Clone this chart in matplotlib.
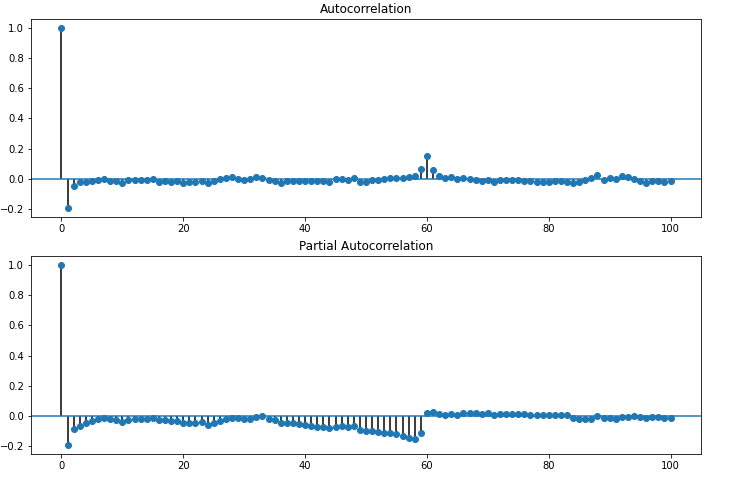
import numpy as np
import matplotlib
matplotlib.use("Agg")
import matplotlib.pyplot as plt

lags = list(range(0, 101))

acf_values = [
    1.0, -0.194, -0.046, -0.024, -0.02, -0.015, -0.01, 0.0, -0.017, -0.017,
    -0.029, -0.008, -0.008, -0.008, -0.008, 0.0, -0.022, -0.018, -0.024, -0.015,
    -0.029, -0.02, -0.02, -0.018, -0.029, -0.015, 0.0, 0.007, 0.014, 0.0,
    -0.007, -0.003, 0.013, 0.006, -0.009, -0.013, -0.026, -0.013, -0.013, -0.018,
    -0.018, -0.013, -0.018, -0.013, -0.02, -0.004, 0.0, -0.007, 0.002, -0.02,
    -0.02, -0.007, -0.007, 0.0, 0.007, 0.007, 0.007, 0.013, 0.02, 0.066,
    0.150, 0.06, 0.02, 0.007, 0.013, 0.0, 0.004, -0.004, -0.01, -0.013,
    -0.009, -0.024, -0.009, -0.009, -0.009, -0.01, -0.017, -0.017, -0.022, -0.022,
    -0.02, -0.017, -0.017, -0.02, -0.031, -0.02, -0.009, 0.002, 0.022, -0.007,
    0.004, -0.002, 0.015, 0.009, 0.0, -0.015, -0.029, -0.015, -0.015, -0.02,
    -0.015,
]

pacf_values = [
    1.0, -0.192, -0.088, -0.064, -0.049, -0.035, -0.022, -0.015, -0.022, -0.029,
    -0.042, -0.026, -0.02, -0.02, -0.02, -0.015, -0.029, -0.029, -0.035, -0.035,
    -0.049, -0.049, -0.049, -0.042, -0.062, -0.049, -0.035, -0.02, -0.013, -0.013,
    -0.02, -0.018, -0.007, 0.0, -0.02, -0.029, -0.049, -0.049, -0.049, -0.055,
    -0.062, -0.068, -0.075, -0.075, -0.082, -0.075, -0.068, -0.075, -0.068, -0.09,
    -0.10, -0.10, -0.108, -0.115, -0.115, -0.121, -0.135, -0.148, -0.155, -0.115,
    0.018, 0.024, 0.011, 0.004, 0.011, 0.004, 0.018, 0.018, 0.018, 0.011,
    0.022, 0.007, 0.011, 0.011, 0.011, 0.011, 0.011, 0.009, 0.004, 0.004,
    0.004, 0.004, 0.007, 0.007, -0.013, -0.018, -0.022, -0.02, 0.002, -0.013,
    -0.015, -0.02, -0.009, -0.009, 0.002, -0.009, -0.011, -0.009, -0.009, -0.015,
    -0.011,
]

titles = ["Autocorrelation", "Partial Autocorrelation"]

W, H = 731, 477
fig = plt.figure(figsize=(W / 72, H / 72), dpi=72)

boxes = [(31, 19, 701, 217), (31, 256, 701, 454)]
for (l, t, r, b), vals, title in zip(boxes, [acf_values, pacf_values], titles):
    ax = fig.add_axes([l / W, 1 - b / H, (r - l) / W, (b - t) / H])
    ax.vlines(lags, [0], vals, colors="k", linewidth=1.5)
    ax.axhline(0, color="C0", linewidth=1.5)
    ax.plot(lags, vals, marker="o", markersize=6, linestyle="None", color="C0")
    ax.margins(0.05)
    ax.set_title(title, fontsize=12)
    ax.set_xticks([0, 20, 40, 60, 80, 100])
    ax.set_yticks([-0.2, 0.0, 0.2, 0.4, 0.6, 0.8, 1.0])

fig.savefig("out.png", dpi=72)
